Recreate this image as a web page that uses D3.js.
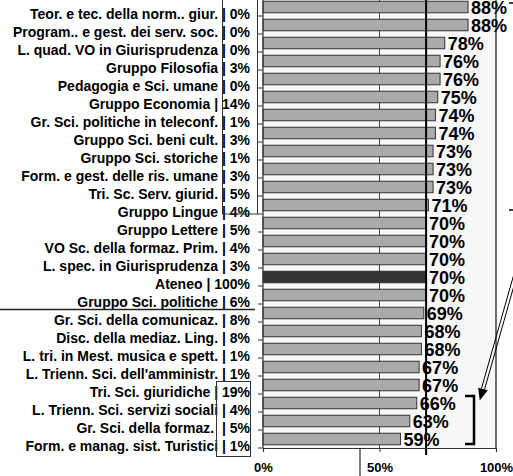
<!DOCTYPE html>
<html><head><meta charset="utf-8">
<script src="https://cdn.jsdelivr.net/npm/d3@7"></script>
<style>
html,body{margin:0;padding:0;background:#fff;}
svg{display:block;font-family:Arial,"Liberation Sans",sans-serif;}
</style></head>
<body>
<svg id="c" width="513" height="476"></svg>
<script>
const categories = [
  "Teor. e tec. della norm.. giur.",
  "Program.. e gest. dei serv. soc.",
  "L. quad. VO in Giurisprudenza",
  "Gruppo Filosofia",
  "Pedagogia e Sci. umane",
  "Gruppo Economia",
  "Gr. Sci. politiche in teleconf.",
  "Gruppo Sci. beni cult.",
  "Gruppo Sci. storiche",
  "Form. e gest. delle ris. umane",
  "Tri. Sc. Serv. giurid.",
  "Gruppo Lingue",
  "Gruppo Lettere",
  "VO Sc. della formaz. Prim.",
  "L. spec. in Giurisprudenza",
  "Ateneo",
  "Gruppo Sci. politiche",
  "Gr. Sci. della comunicaz.",
  "Disc. della mediaz. Ling.",
  "L. tri. in Mest. musica e spett.",
  "L. Trienn. Sci. dell'amministr.",
  "Tri. Sci. giuridiche",
  "L. Trienn. Sci. servizi sociali",
  "Gr. Sci. della formaz. ",
  "Form. e manag. sist. Turistici"
];
const shares = [0,0,0,3,0,14,1,3,1,3,5,4,5,4,3,100,6,8,8,1,1,19,4,5,1];
const values = [88,88,78,76,76,75,74,74,73,73,73,71,70,70,70,70,70,69,68,68,67,67,66,63,59];
const highlight = "Ateneo";
const xTicks = [0,50,100];
const refValue = 70;

const svg = d3.select("#c");
const data = categories.map((c,i)=>({name:c, share:shares[i], value:values[i]}));

const x = d3.scaleLinear().domain([0,100]).range([263,496]);
const y = d3.scaleBand().domain(categories).range([-2,448]).paddingInner(0.36).paddingOuter(0.18);

// plot background
svg.append("rect").attr("x",x(0)).attr("y",-2).attr("width",x(100)-x(0)).attr("height",450)
  .attr("fill","#f7f7f7");

// gridline 50%
svg.append("line").attr("x1",x(50)).attr("x2",x(50)).attr("y1",-2).attr("y2",448)
  .attr("stroke","#444").attr("stroke-width",1);

// bars
svg.selectAll("rect.bar").data(data).join("rect").attr("class","bar")
  .attr("x",x(0)).attr("y",d=>y(d.name)).attr("width",d=>x(d.value)-x(0)).attr("height",y.bandwidth())
  .attr("fill",d=>d.name===highlight?"#333":"#aaa").attr("stroke","#333").attr("stroke-width",1);

// right border
svg.append("line").attr("x1",x(100)).attr("x2",x(100)).attr("y1",-2).attr("y2",448)
  .attr("stroke","#111").attr("stroke-width",1.2);

// reference line 70%
svg.append("line").attr("x1",x(refValue)).attr("x2",x(refValue)).attr("y1",0).attr("y2",455)
  .attr("stroke","#000").attr("stroke-width",2);

// y axis with ticks at band boundaries
const ya = svg.append("g");
ya.append("line").attr("x1",x(0)).attr("x2",x(0)).attr("y1",-2).attr("y2",448).attr("stroke","#333").attr("stroke-width",1.2);
categories.forEach((c,i)=>{
  const yy = y.range()[0] + y.step()*(i+1);
  ya.append("line").attr("x1",x(0)-5).attr("x2",x(0)).attr("y1",yy).attr("y2",yy).attr("stroke","#333");
});

// x axis
const xa = svg.append("g").attr("transform","translate(0,448)")
  .call(d3.axisBottom(x).tickValues(xTicks).tickSize(4).tickPadding(11).tickFormat(d=>d+"%"));
xa.select(".domain").attr("stroke","#333").attr("stroke-width",1.2);
xa.selectAll("line").attr("stroke","#333");
xa.selectAll("text").attr("font-size",13).attr("font-weight","bold").attr("fill","#000")
  .attr("font-family","Arial,'Liberation Sans',sans-serif");

// category labels
svg.selectAll("text.cat").data(data).join("text").attr("class","cat")
  .attr("x",250).attr("y",d=>y(d.name)+y.bandwidth()/2+7)
  .attr("text-anchor","end").attr("font-size",14).attr("font-weight","bold").attr("fill","#000")
  .attr("dy","0.35em").style("white-space","pre")
  .text(d=>d.name+" | "+d.share+"%");

// value labels
svg.selectAll("text.val").data(data).join("text").attr("class","val")
  .attr("x",d=>x(d.value)+3).attr("y",d=>y(d.name)+y.bandwidth()/2+1)
  .attr("dy","0.35em").attr("font-size",18).attr("font-weight","bold").attr("fill","#000")
  .text(d=>d.value+"%");

// annotation boxes
svg.append("rect").attr("x",222.5).attr("y",-1).attr("width",35).attr("height",215)
  .attr("fill","none").attr("stroke","#333").attr("stroke-width",1);
svg.append("rect").attr("x",216.5).attr("y",381.5).attr("width",34).attr("height",75)
  .attr("fill","none").attr("stroke","#333").attr("stroke-width",1);

// separator lines
svg.append("line").attr("x1",0).attr("x2",255).attr("y1",309.5).attr("y2",309.5).attr("stroke","#222").attr("stroke-width",1.5);
svg.append("line").attr("x1",360).attr("x2",360).attr("y1",449).attr("y2",476).attr("stroke","#555").attr("stroke-width",1.5);

// small marks
svg.append("line").attr("x1",509).attr("x2",513).attr("y1",3).attr("y2",3).attr("stroke","#000").attr("stroke-width",1.5);
svg.append("line").attr("x1",509).attr("x2",513).attr("y1",210).attr("y2",210).attr("stroke","#000").attr("stroke-width",1.5);

// arrow (double line)
const ax1=521, ay1=255, ax2=483, ay2=389;
const dx=ax2-ax1, dy=ay2-ay1, len=Math.hypot(dx,dy), nx=-dy/len, ny=dx/len;
[-1.6,1.6].forEach(o=>{
  svg.append("line").attr("x1",ax1+nx*o).attr("y1",ay1+ny*o).attr("x2",ax2+nx*o).attr("y2",ay2+ny*o)
    .attr("stroke","#000").attr("stroke-width",1);
});
const ux=dx/len, uy=dy/len;
const tipX=ax2+ux*12, tipY=ay2+uy*12;
svg.append("path").attr("d",`M${tipX},${tipY} L${ax2+nx*5},${ay2+ny*5} L${ax2-nx*5},${ay2-ny*5} Z`).attr("fill","#000");

// bracket
svg.append("path").attr("d","M465,396 L474,396 L474,444 L465,444").attr("fill","none")
  .attr("stroke","#000").attr("stroke-width",2.5);
</script>
</body></html>
